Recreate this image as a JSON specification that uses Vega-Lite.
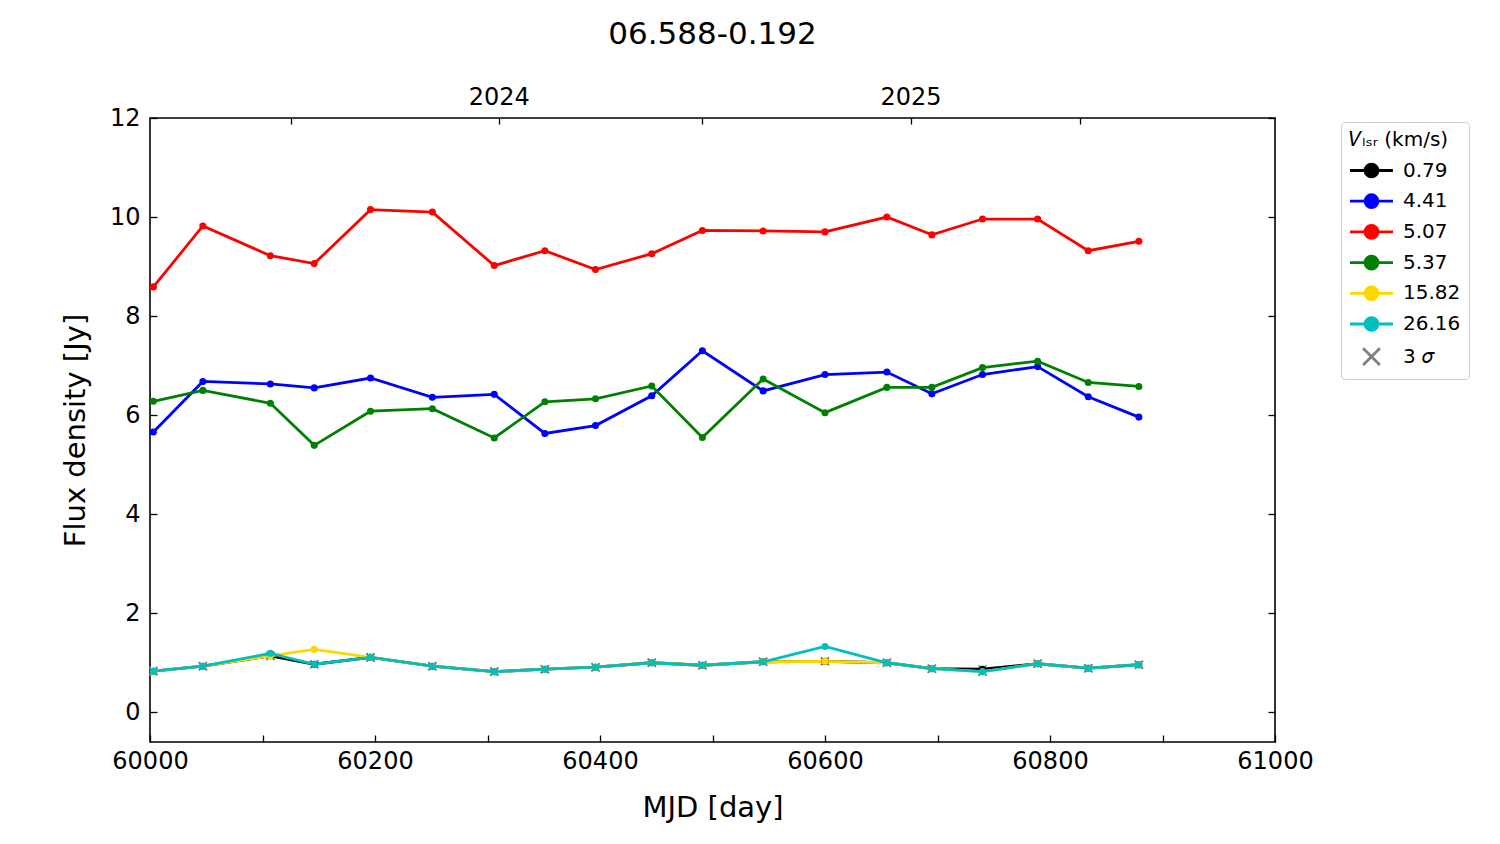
{
  "$schema": "https://vega.github.io/schema/vega-lite/v6.json",
  "description": "Maser flux density light curve for 06.588-0.192, one line per Vlsr channel",
  "autosize": {"type": "none"},
  "padding": {"left": 150, "top": 118, "right": 225, "bottom": 102},
  "width": 1125,
  "height": 624,
  "background": "white",
  "title": {
    "text": "06.588-0.192",
    "font": "DejaVu Sans",
    "fontSize": 31,
    "fontWeight": "normal",
    "color": "black",
    "anchor": "middle",
    "frame": "group",
    "baseline": "alphabetic",
    "offset": 10
  },
  "config": {
    "view": {"stroke": "black", "strokeWidth": 1.6},
    "font": "DejaVu Sans",
    "axis": {
      "grid": false,
      "domain": false,
      "tickColor": "black",
      "tickWidth": 1.3,
      "tickSize": -7,
      "labelFont": "DejaVu Sans",
      "labelFontSize": 24,
      "labelColor": "black",
      "titleFont": "DejaVu Sans",
      "titleFontSize": 29,
      "titleFontWeight": "normal",
      "titleColor": "black"
    }
  },
  "data": {
    "values": [
      {"mjd": 60003, "flux": 0.83, "v": "0.79", "limit": true},
      {"mjd": 60047, "flux": 0.93, "v": "0.79", "limit": true},
      {"mjd": 60107, "flux": 1.14, "v": "0.79", "limit": true},
      {"mjd": 60146, "flux": 0.97, "v": "0.79", "limit": true},
      {"mjd": 60196, "flux": 1.11, "v": "0.79", "limit": true},
      {"mjd": 60251, "flux": 0.93, "v": "0.79", "limit": true},
      {"mjd": 60306, "flux": 0.82, "v": "0.79", "limit": true},
      {"mjd": 60351, "flux": 0.87, "v": "0.79", "limit": true},
      {"mjd": 60396, "flux": 0.91, "v": "0.79", "limit": true},
      {"mjd": 60446, "flux": 1.00, "v": "0.79", "limit": true},
      {"mjd": 60491, "flux": 0.95, "v": "0.79", "limit": true},
      {"mjd": 60545, "flux": 1.02, "v": "0.79", "limit": true},
      {"mjd": 60600, "flux": 1.03, "v": "0.79", "limit": true},
      {"mjd": 60655, "flux": 1.00, "v": "0.79", "limit": true},
      {"mjd": 60695, "flux": 0.88, "v": "0.79", "limit": true},
      {"mjd": 60740, "flux": 0.87, "v": "0.79", "limit": true},
      {"mjd": 60789, "flux": 0.98, "v": "0.79", "limit": true},
      {"mjd": 60834, "flux": 0.89, "v": "0.79", "limit": true},
      {"mjd": 60879, "flux": 0.96, "v": "0.79", "limit": true},

      {"mjd": 60003, "flux": 5.66, "v": "4.41", "limit": false},
      {"mjd": 60047, "flux": 6.68, "v": "4.41", "limit": false},
      {"mjd": 60107, "flux": 6.63, "v": "4.41", "limit": false},
      {"mjd": 60146, "flux": 6.55, "v": "4.41", "limit": false},
      {"mjd": 60196, "flux": 6.75, "v": "4.41", "limit": false},
      {"mjd": 60251, "flux": 6.36, "v": "4.41", "limit": false},
      {"mjd": 60306, "flux": 6.42, "v": "4.41", "limit": false},
      {"mjd": 60351, "flux": 5.63, "v": "4.41", "limit": false},
      {"mjd": 60396, "flux": 5.79, "v": "4.41", "limit": false},
      {"mjd": 60446, "flux": 6.39, "v": "4.41", "limit": false},
      {"mjd": 60491, "flux": 7.30, "v": "4.41", "limit": false},
      {"mjd": 60545, "flux": 6.49, "v": "4.41", "limit": false},
      {"mjd": 60600, "flux": 6.82, "v": "4.41", "limit": false},
      {"mjd": 60655, "flux": 6.87, "v": "4.41", "limit": false},
      {"mjd": 60695, "flux": 6.43, "v": "4.41", "limit": false},
      {"mjd": 60740, "flux": 6.82, "v": "4.41", "limit": false},
      {"mjd": 60789, "flux": 6.98, "v": "4.41", "limit": false},
      {"mjd": 60834, "flux": 6.37, "v": "4.41", "limit": false},
      {"mjd": 60879, "flux": 5.96, "v": "4.41", "limit": false},

      {"mjd": 60003, "flux": 8.59, "v": "5.07", "limit": false},
      {"mjd": 60047, "flux": 9.82, "v": "5.07", "limit": false},
      {"mjd": 60107, "flux": 9.22, "v": "5.07", "limit": false},
      {"mjd": 60146, "flux": 9.06, "v": "5.07", "limit": false},
      {"mjd": 60196, "flux": 10.15, "v": "5.07", "limit": false},
      {"mjd": 60251, "flux": 10.10, "v": "5.07", "limit": false},
      {"mjd": 60306, "flux": 9.02, "v": "5.07", "limit": false},
      {"mjd": 60351, "flux": 9.32, "v": "5.07", "limit": false},
      {"mjd": 60396, "flux": 8.94, "v": "5.07", "limit": false},
      {"mjd": 60446, "flux": 9.26, "v": "5.07", "limit": false},
      {"mjd": 60491, "flux": 9.73, "v": "5.07", "limit": false},
      {"mjd": 60545, "flux": 9.72, "v": "5.07", "limit": false},
      {"mjd": 60600, "flux": 9.70, "v": "5.07", "limit": false},
      {"mjd": 60655, "flux": 10.00, "v": "5.07", "limit": false},
      {"mjd": 60695, "flux": 9.64, "v": "5.07", "limit": false},
      {"mjd": 60740, "flux": 9.96, "v": "5.07", "limit": false},
      {"mjd": 60789, "flux": 9.96, "v": "5.07", "limit": false},
      {"mjd": 60834, "flux": 9.32, "v": "5.07", "limit": false},
      {"mjd": 60879, "flux": 9.51, "v": "5.07", "limit": false},

      {"mjd": 60003, "flux": 6.28, "v": "5.37", "limit": false},
      {"mjd": 60047, "flux": 6.50, "v": "5.37", "limit": false},
      {"mjd": 60107, "flux": 6.24, "v": "5.37", "limit": false},
      {"mjd": 60146, "flux": 5.39, "v": "5.37", "limit": false},
      {"mjd": 60196, "flux": 6.08, "v": "5.37", "limit": false},
      {"mjd": 60251, "flux": 6.13, "v": "5.37", "limit": false},
      {"mjd": 60306, "flux": 5.54, "v": "5.37", "limit": false},
      {"mjd": 60351, "flux": 6.27, "v": "5.37", "limit": false},
      {"mjd": 60396, "flux": 6.33, "v": "5.37", "limit": false},
      {"mjd": 60446, "flux": 6.59, "v": "5.37", "limit": false},
      {"mjd": 60491, "flux": 5.55, "v": "5.37", "limit": false},
      {"mjd": 60545, "flux": 6.73, "v": "5.37", "limit": false},
      {"mjd": 60600, "flux": 6.05, "v": "5.37", "limit": false},
      {"mjd": 60655, "flux": 6.56, "v": "5.37", "limit": false},
      {"mjd": 60695, "flux": 6.56, "v": "5.37", "limit": false},
      {"mjd": 60740, "flux": 6.96, "v": "5.37", "limit": false},
      {"mjd": 60789, "flux": 7.09, "v": "5.37", "limit": false},
      {"mjd": 60834, "flux": 6.66, "v": "5.37", "limit": false},
      {"mjd": 60879, "flux": 6.58, "v": "5.37", "limit": false},

      {"mjd": 60003, "flux": 0.83, "v": "15.82", "limit": true},
      {"mjd": 60047, "flux": 0.93, "v": "15.82", "limit": true},
      {"mjd": 60107, "flux": 1.14, "v": "15.82", "limit": true},
      {"mjd": 60146, "flux": 1.27, "v": "15.82", "limit": false},
      {"mjd": 60196, "flux": 1.11, "v": "15.82", "limit": true},
      {"mjd": 60251, "flux": 0.93, "v": "15.82", "limit": true},
      {"mjd": 60306, "flux": 0.82, "v": "15.82", "limit": true},
      {"mjd": 60351, "flux": 0.87, "v": "15.82", "limit": true},
      {"mjd": 60396, "flux": 0.91, "v": "15.82", "limit": true},
      {"mjd": 60446, "flux": 1.00, "v": "15.82", "limit": true},
      {"mjd": 60491, "flux": 0.95, "v": "15.82", "limit": true},
      {"mjd": 60545, "flux": 1.02, "v": "15.82", "limit": true},
      {"mjd": 60600, "flux": 1.03, "v": "15.82", "limit": true},
      {"mjd": 60655, "flux": 1.00, "v": "15.82", "limit": true},
      {"mjd": 60695, "flux": 0.88, "v": "15.82", "limit": true},
      {"mjd": 60740, "flux": 0.82, "v": "15.82", "limit": true},
      {"mjd": 60789, "flux": 0.98, "v": "15.82", "limit": true},
      {"mjd": 60834, "flux": 0.89, "v": "15.82", "limit": true},
      {"mjd": 60879, "flux": 0.96, "v": "15.82", "limit": true},

      {"mjd": 60003, "flux": 0.83, "v": "26.16", "limit": true},
      {"mjd": 60047, "flux": 0.93, "v": "26.16", "limit": true},
      {"mjd": 60107, "flux": 1.19, "v": "26.16", "limit": false},
      {"mjd": 60146, "flux": 0.97, "v": "26.16", "limit": true},
      {"mjd": 60196, "flux": 1.11, "v": "26.16", "limit": true},
      {"mjd": 60251, "flux": 0.93, "v": "26.16", "limit": true},
      {"mjd": 60306, "flux": 0.82, "v": "26.16", "limit": true},
      {"mjd": 60351, "flux": 0.87, "v": "26.16", "limit": true},
      {"mjd": 60396, "flux": 0.91, "v": "26.16", "limit": true},
      {"mjd": 60446, "flux": 1.00, "v": "26.16", "limit": true},
      {"mjd": 60491, "flux": 0.95, "v": "26.16", "limit": true},
      {"mjd": 60545, "flux": 1.02, "v": "26.16", "limit": true},
      {"mjd": 60600, "flux": 1.33, "v": "26.16", "limit": false},
      {"mjd": 60655, "flux": 1.00, "v": "26.16", "limit": true},
      {"mjd": 60695, "flux": 0.88, "v": "26.16", "limit": true},
      {"mjd": 60740, "flux": 0.82, "v": "26.16", "limit": true},
      {"mjd": 60789, "flux": 0.98, "v": "26.16", "limit": true},
      {"mjd": 60834, "flux": 0.89, "v": "26.16", "limit": true},
      {"mjd": 60879, "flux": 0.96, "v": "26.16", "limit": true}
    ]
  },
  "resolve": {"axis": {"x": "independent", "y": "independent"}},
  "layer": [
    {
      "transform": [{"filter": "datum.limit"}],
      "mark": {
        "type": "point",
        "shape": "M-1,-1L1,1M-1,1L1,-1",
        "filled": false,
        "stroke": "#808080",
        "strokeWidth": 1.6,
        "size": 64,
        "opacity": 1
      },
      "encoding": {
        "x": {
          "field": "mjd",
          "type": "quantitative",
          "scale": {"domain": [60000, 61000], "nice": false, "zero": false},
          "axis": {
            "orient": "bottom",
            "title": "MJD [day]",
            "titleX": 562.5,
            "titleY": 74,
            "titleAlign": "center",
            "titleBaseline": "alphabetic",
            "values": [60000, 60100, 60200, 60300, 60400, 60500, 60600, 60700, 60800, 60900, 61000],
            "format": "d",
            "labelExpr": "datum.value % 200 === 0 ? datum.label : ''",
            "labelPadding": 14,
            "labelFlush": false,
            "labelOverlap": false
          }
        },
        "y": {
          "field": "flux",
          "type": "quantitative",
          "scale": {"domain": [-0.6, 12], "nice": false, "zero": false},
          "axis": {
            "orient": "left",
            "title": "Flux density [Jy]",
            "titleX": -75,
            "titleY": 312,
            "titleAngle": -90,
            "titleAlign": "center",
            "titleBaseline": "middle",
            "values": [0, 2, 4, 6, 8, 10, 12],
            "format": "d",
            "labelPadding": 17,
            "labelFlush": false,
            "labelOverlap": false
          }
        }
      }
    },
    {
      "mark": {"type": "line", "strokeWidth": 2.8},
      "encoding": {
        "x": {
          "field": "mjd",
          "type": "quantitative",
          "axis": {
            "orient": "top",
            "title": null,
            "values": [60125, 60310, 60491, 60676, 60827],
            "labelExpr": "datum.value === 60310 ? '2024' : (datum.value === 60676 ? '2025' : '')",
            "labelPadding": 15,
            "tickSize": -6,
            "labelFlush": false,
            "labelOverlap": false
          }
        },
        "y": {
          "field": "flux",
          "type": "quantitative",
          "axis": {
            "orient": "right",
            "title": null,
            "values": [0, 2, 4, 6, 8, 10, 12],
            "labels": false
          }
        },
        "color": {
          "field": "v",
          "type": "nominal",
          "scale": {
            "domain": ["0.79", "4.41", "5.07", "5.37", "15.82", "26.16", "3 𝜎"],
            "range": ["#000000", "#0000ff", "#ff0000", "#008000", "#ffd700", "#00bfbf", "#808080"]
          },
          "legend": {
            "orient": "none",
            "legendX": 1191,
            "legendY": 4,
            "title": "𝑉ₗₛᵣ (km/s)",
            "titleFont": "DejaVu Sans",
            "titleFontSize": 20,
            "titleFontWeight": "normal",
            "titleColor": "black",
            "titlePadding": 8,
            "labelFont": "DejaVu Sans",
            "labelFontSize": 20,
            "labelColor": "black",
            "symbolSize": 462,
            "symbolType": "M-2,0L2,0M-0.6,0A0.6,0.6,0,1,1,0.6,0A0.6,0.6,0,1,1,-0.6,0Z",
            "symbolStrokeWidth": 2.8,
            "symbolOffset": 10,
            "labelOffset": 19,
            "rowPadding": 5.7,
            "padding": 8,
            "strokeColor": "#cccccc",
            "fillColor": "white",
            "cornerRadius": 4,
            "encode": {
              "symbols": {
                "update": {
                  "shape": {"signal": "datum.value === '3 𝜎' ? 'M-0.78,-0.78L0.78,0.78M-0.78,0.78L0.78,-0.78' : 'M-2,0L2,0M-0.6,0A0.6,0.6,0,1,1,0.6,0A0.6,0.6,0,1,1,-0.6,0Z'"},
                  "fill": [
                    {"test": "datum.value === '3 𝜎'", "value": "transparent"},
                    {"field": "value", "scale": "color"}
                  ],
                  "stroke": {"field": "value", "scale": "color"},
                  "strokeWidth": {"value": 2.8},
                  "opacity": {"value": 1}
                }
              }
            }
          }
        }
      }
    },
    {
      "mark": {"type": "point", "shape": "circle", "filled": true, "size": 50, "opacity": 1},
      "encoding": {
        "x": {"field": "mjd", "type": "quantitative", "axis": null},
        "y": {"field": "flux", "type": "quantitative", "axis": null},
        "color": {"field": "v", "type": "nominal"}
      }
    }
  ]
}
